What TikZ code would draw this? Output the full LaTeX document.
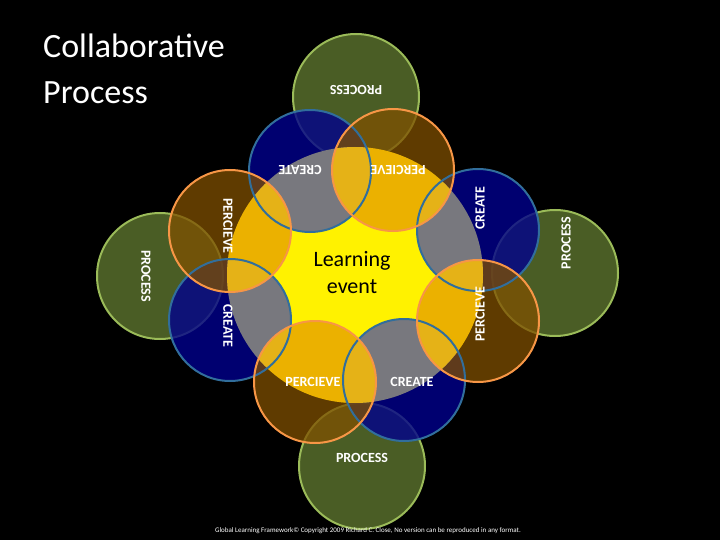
\documentclass[tikz,border=0pt]{standalone}
\usepackage{fontspec}
\setmainfont{Carlito}
\definecolor{gfill}{RGB}{79,98,40}
\definecolor{gline}{RGB}{155,187,89}
\definecolor{bfill}{RGB}{0,0,140}
\definecolor{brfill}{RGB}{127,80,0}
\definecolor{bline}{RGB}{49,110,156}
\definecolor{brline}{RGB}{247,150,70}
\definecolor{gold}{RGB}{255,192,0}
\begin{document}
\begin{tikzpicture}[x=1pt,y=-1pt,
  lab/.style={text=white,font=\bfseries\fontsize{14}{14}\selectfont,inner sep=0pt},
  grn/.style={fill=gfill,fill opacity=0.95,draw=gline,line width=2pt},
  blu/.style={fill=bfill,fill opacity=0.8},
  brn/.style={fill=brfill,fill opacity=0.75},
  bluo/.style={draw=bline,line width=2pt},
  brno/.style={draw=brline,line width=2pt}]
\fill[black] (0,0) rectangle (720,540);
\useasboundingbox (0,0) rectangle (720,540);
\foreach \p in {(356,97),(555,273),(362,466),(160,276)} \path[grn] \p circle (63);
\fill[yellow] (355,275) circle (128);
\foreach \p in {(310,171),(478,230),(404,380),(230,320)} \path[blu] \p circle (61);
\foreach \p in {(393,170),(478,321),(315,382),(230,231)} \path[brn] \p circle (61);
\begin{scope}
\clip (355,275) circle (128);
\foreach \p in {(310,171),(478,230),(404,380),(230,320)} \fill[gray,fill opacity=0.9] \p circle (61);
\foreach \p in {(393,170),(478,321),(315,382),(230,231)} \fill[gold,fill opacity=0.8] \p circle (61);
\end{scope}
\foreach \p in {(310,171),(478,230),(404,380),(230,320)} \draw[bluo] \p circle (61);
\foreach \p in {(393,170),(478,321),(315,382),(230,231)} \draw[brno] \p circle (61);
\node[lab,rotate=180] (t1) at (356,90) {PROCESS};
\node[lab,rotate=180] (t2) at (300,170) {CREATE};
\node[lab,rotate=180] (t3) at (398,170) {PERCIEVE};
\node[lab,rotate=-90] (l1) at (228,226) {PERCIEVE};
\node[lab,rotate=-90] (l2) at (228,326) {CREATE};
\node[lab,rotate=-90] (l3) at (146,276) {PROCESS};
\node[lab,rotate=90] (r1) at (480,208) {CREATE};
\node[lab,rotate=90] (r2) at (480,314) {PERCIEVE};
\node[lab,rotate=90] (r3) at (566,243) {PROCESS};
\node[lab] (b1) at (313,382) {PERCIEVE};
\node[lab] (b2) at (412,382) {CREATE};
\node[lab] (b3) at (362,458) {PROCESS};
\node[align=center,font=\fontsize{22}{27}\selectfont,inner sep=0pt] (c) at (352,273) {Learning\\event};
\node[anchor=north west,align=left,text=white,font=\fontsize{34}{46}\selectfont,inner sep=0pt] (title) at (43,34) {Collaborative\\Process};
\node[text=white,font=\fontsize{7}{7}\selectfont,inner sep=0pt] (foot) at (368,531) {Global Learning Framework© Copyright 2009 Richard C. Close, No version can be reproduced in any format.};
\end{tikzpicture}
\end{document}
